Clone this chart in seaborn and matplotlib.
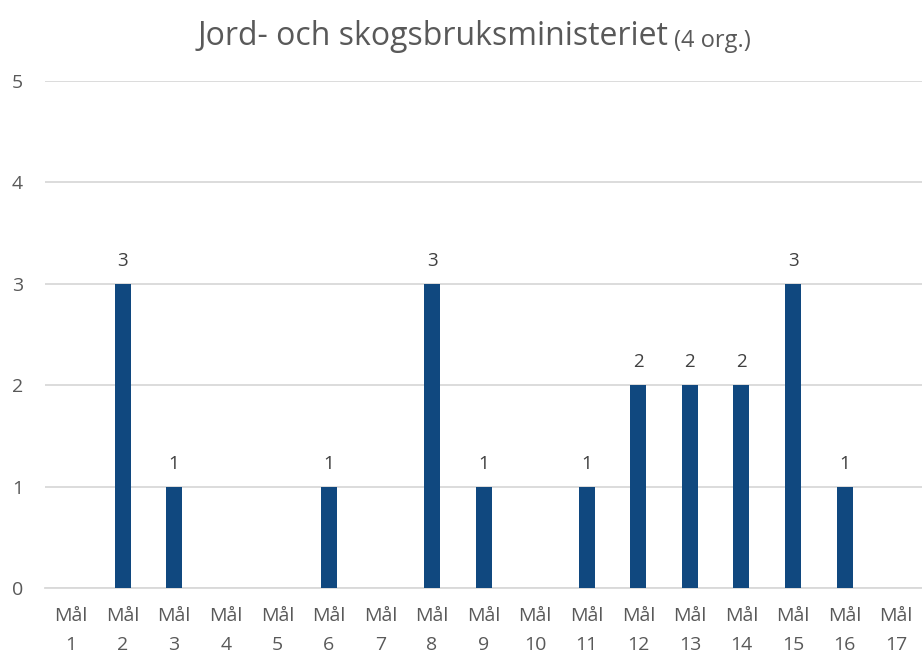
import matplotlib
matplotlib.use("Agg")
import matplotlib.pyplot as plt
import seaborn as sns
import pandas as pd

# data
goals = ["Mål\n%d" % i for i in range(1, 18)]
counts = [0, 3, 1, 0, 0, 1, 0, 3, 1, 0, 1, 2, 2, 2, 3, 1, 0]
title_main = "Jord- och skogsbruksministeriet"
title_suffix = "(4 org.)"

sns.set_theme(style="white")
plt.rcParams['font.family'] = ['Open Sans', 'DejaVu Sans']

df = pd.DataFrame({"goal": goals, "count": counts})

fig = plt.figure(figsize=(9.22, 6.57), dpi=100)
ax = fig.add_axes([0.049, 0.105, 0.951, 0.772])

sns.barplot(data=df, x="goal", y="count", color="#10487F", width=0.31,
            saturation=1, linewidth=0, ax=ax, zorder=3)

ax.set_ylim(0, 5)
ax.set_yticks(range(0, 6))
ax.yaxis.grid(True, color="#D9D9D9", linewidth=1.3, zorder=0)
ax.set_axisbelow(True)
for s in ["top", "right", "left"]:
    ax.spines[s].set_visible(False)
ax.spines["bottom"].set_color("#D9D9D9")
ax.spines["bottom"].set_linewidth(1.3)
ax.set_xlabel("")
ax.set_ylabel("")
ax.tick_params(axis="both", length=0, labelsize=14, labelcolor="#595959")
ax.tick_params(axis="x", pad=14)
ax.tick_params(axis="y", pad=24)
for lab in ax.get_yticklabels():
    lab.set_horizontalalignment("left")
for lab in ax.get_xticklabels():
    lab.set_linespacing(1.75)

for i, v in enumerate(counts):
    if v > 0:
        ax.annotate(str(v), (i, v), xytext=(0, 10), textcoords="offset points",
                    ha="center", va="bottom", fontsize=13.5, color="#404040")

t1 = fig.text(0.5, 0.945, title_main, ha="center", va="center",
              fontsize=23, color="#595959")
t2 = ax.annotate(title_suffix, xy=(1, 0), xycoords=t1, xytext=(4, 0),
                 textcoords="offset points", ha="left", va="bottom",
                 fontsize=17, color="#595959")
fig.canvas.draw()
r = fig.canvas.get_renderer()
b1 = t1.get_window_extent(r)
b2 = t2.get_window_extent(r)
total = b2.x1 - b1.x0
shift = (474 - (b1.x0 + total / 2)) / fig.bbox.width
t1.set_x(0.5 + shift)

fig.savefig("out.png", dpi=100)
